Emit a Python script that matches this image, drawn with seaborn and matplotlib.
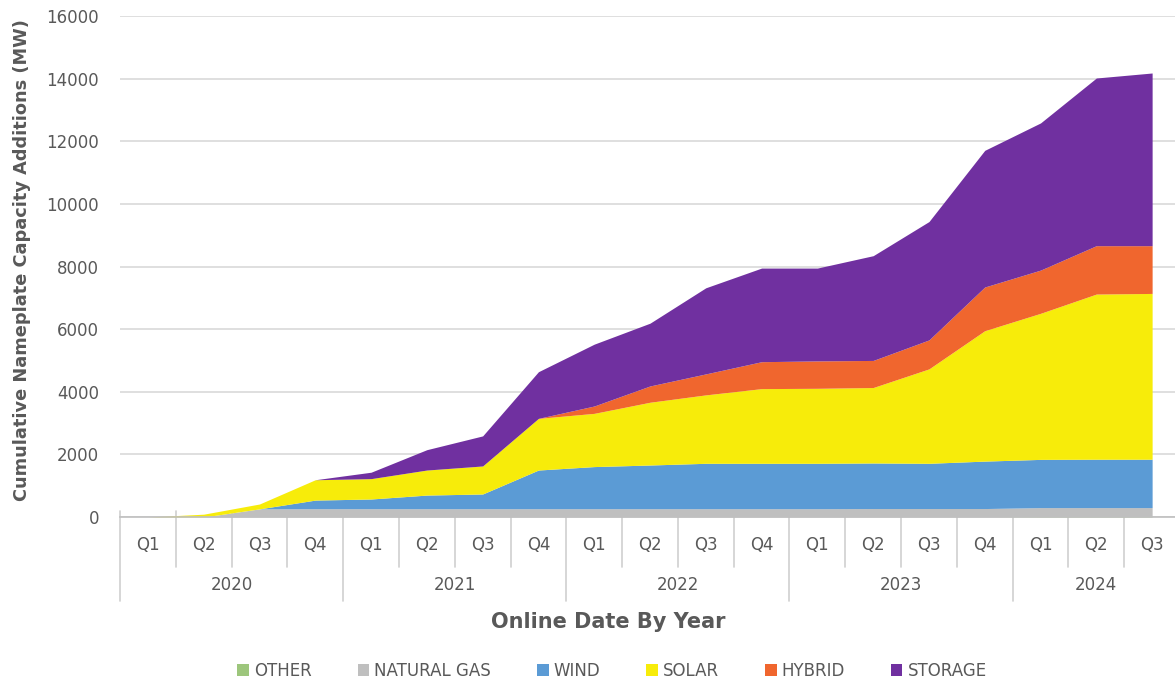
import numpy as np
import matplotlib
matplotlib.use("Agg")
import matplotlib.pyplot as plt
import matplotlib.transforms as mtransforms
from matplotlib.patches import Patch
import seaborn as sns

# ---- data ----
years = ["2020", "2021", "2022", "2023", "2024"]
quarters = ["Q1", "Q2", "Q3", "Q4", "Q1", "Q2", "Q3", "Q4", "Q1", "Q2", "Q3", "Q4",
            "Q1", "Q2", "Q3", "Q4", "Q1", "Q2", "Q3"]
series_names = ["OTHER", "NATURAL GAS", "WIND", "SOLAR", "HYBRID", "STORAGE"]
other = [0, 0, 0, 0, 0, 0, 0, 0, 0, 0, 0, 0, 0, 0, 0, 0, 15, 15, 15]
natural_gas = [0, 0, 260, 265, 265, 265, 265, 265, 265, 265, 265, 265, 265, 270, 270, 270, 285, 285, 285]
wind = [0, 0, 0, 275, 310, 435, 470, 1235, 1345, 1395, 1450, 1450, 1450, 1455, 1445, 1515, 1540, 1545, 1545]
solar = [0, 90, 155, 650, 650, 800, 895, 1650, 1700, 2005, 2185, 2385, 2395, 2410, 3015, 4165, 4665, 5275, 5295]
hybrid = [0, 0, 0, 0, 0, 0, 0, 0, 235, 520, 670, 860, 875, 865, 925, 1395, 1380, 1545, 1525]
storage = [0, 0, 0, 0, 205, 650, 960, 1490, 1975, 2005, 2750, 2990, 2965, 3345, 3780, 4365, 4700, 5355, 5515]

colors = ["#9DC67C", "#BFBFBF", "#5B9BD5", "#F7EC0A", "#F0662E", "#7030A0"]
text_color = "#595959"

sns.set_theme(style="white")
plt.rcParams["font.family"] = ["DejaVu Sans"]

W, H = 1175, 685
fig = plt.figure(figsize=(W / 100, H / 100), dpi=100)
ax = fig.add_axes([120 / W, 1 - 517 / H, 1 - 120 / W, 501 / H])

x = np.arange(len(quarters))
ax.stackplot(x, other, natural_gas, wind, solar, hybrid, storage,
             colors=colors, linewidth=0, zorder=3)

ax.set_xlim(-0.5, 18.41)
ax.set_ylim(0, 16000)
ax.set_yticks(np.arange(0, 16001, 2000))
ax.set_yticklabels([str(v) for v in range(0, 16001, 2000)], fontsize=12, color=text_color)
ax.tick_params(axis="y", length=0, pad=15)
ax.set_xticks([])
ax.grid(axis="y", color="#D9D9D9", linewidth=1.2, zorder=0)
ax.grid(axis="x", visible=False)
for s in ["top", "right", "left"]:
    ax.spines[s].set_visible(False)
ax.spines["bottom"].set_color("#BFBFBF")
ax.spines["bottom"].set_linewidth(1.2)
ax.spines["bottom"].set_zorder(4)

trans = mtransforms.blended_transform_factory(ax.transData, ax.transAxes)
axh = 501.0

# quarter labels
for i, q in enumerate(quarters):
    ax.text(i, -28 / axh, q, transform=trans, ha="center", va="center",
            fontsize=12, color=text_color, clip_on=False)

# quarter separators
for i in range(1, len(quarters)):
    b = i - 0.5
    bottom = -84 / axh if (i % 4 == 0) else -50 / axh
    ax.plot([b, b], [6 / axh, bottom], transform=trans, color="#D0D0D0",
            linewidth=1.2, clip_on=False, zorder=1)
ax.plot([-0.5, -0.5], [6 / axh, -84 / axh], transform=trans, color="#D0D0D0",
        linewidth=1.2, clip_on=False, zorder=1)

# year labels
year_centers = [1.5, 5.5, 9.5, 13.5, 17.0]
for yc, yr in zip(year_centers, years):
    ax.text(yc, -68 / axh, yr, transform=trans, ha="center", va="center",
            fontsize=12, color=text_color, clip_on=False)

# axis titles
fig.text(608 / W, 1 - 622 / H, "Online Date By Year", ha="center", va="center",
         fontsize=15, fontweight="bold", color=text_color)
fig.text(22 / W, 1 - 260 / H, "Cumulative Nameplate Capacity Additions (MW)",
         ha="center", va="center", rotation=90, fontsize=12.8,
         fontweight="bold", color=text_color)

# legend
handles = [Patch(facecolor=c, edgecolor="none") for c in colors]
fig.legend(handles, series_names, loc="center", bbox_to_anchor=(612 / W, 1 - 671 / H),
           ncol=6, frameon=False, fontsize=12, handlelength=0.7, handleheight=0.7,
           handletextpad=0.3, columnspacing=2.75, labelcolor=text_color)

fig.savefig("out.png", dpi=100)
